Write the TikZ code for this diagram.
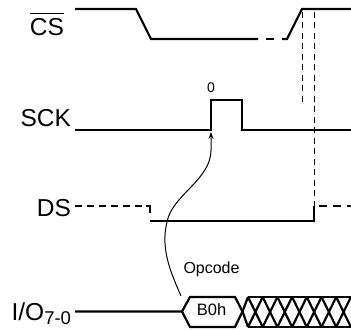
\documentclass[tikz,border=0pt]{standalone}
\usepackage{fontspec}
\setmainfont{Liberation Sans}
\usetikzlibrary{arrows.meta,positioning}

\begin{document}
\begin{tikzpicture}[x=1pt,y=-1pt,
        every node/.style={inner sep=0pt,outer sep=0pt},
        siglabel/.style={anchor=base east,font=\fontsize{24.5}{24.5}\selectfont},
        wave/.style={line width=2.2pt,line join=miter},
        guide/.style={line width=1pt,dash pattern=on 6pt off 4.5pt}]
        \useasboundingbox (0,0) rectangle (351,331);
        % signal names
        \node[siglabel] (cs) at (64,36) {$\overline{\mbox{\rule{0pt}{21.5pt}CS}}$};
        \node[siglabel] (sck) at (71,127) {SCK};
        \node[siglabel] (ds) at (71,216.5) {DS};
        \node[siglabel] (io) at (71,320) {I/O\raisebox{-4pt}{\fontsize{18.5}{18.5}\selectfont 7-0}};
        % CS
        \draw[wave] (75,9) -- (136,9) -- (151,39) -- (258,39);
        \draw[wave] (266,39) -- (274,39);
        \draw[wave] (282,39) -- (287,39) -- (302,9) -- (351,9);
        % SCK
        \coordinate (edge) at (211,132);
        \draw[wave] (75,130) -- (211,130) -- (211,100) -- (242,100) -- (242,130) -- (351,130);
        \node[font=\fontsize{14}{14}\selectfont,anchor=base] (zero) at (211,92.5) {0};
        % DS
        \draw[wave,dash pattern=on 7pt off 5pt] (75,206) -- (146,206);
        \draw[wave] (146,206) -- (150,206) -- (150,213);
        \draw[wave] (150,221) -- (314,221) -- (314,206);
        \draw[wave,dash pattern=on 8pt off 6pt] (319,206) -- (351,206);
        % guides
        \draw[guide] (302,12) -- (302,104);
        \draw[guide] (314,12) -- (314,206);
        % IO
        \draw[wave] (75,311.5) -- (182,311.5) -- (190,297) -- (235,297) -- (242.5,311.5) -- (235,327) -- (190,327) -- (182,311.5);
        \draw[wave] (248,297) -- (351,297) (248,327) -- (351,327);
        \draw[wave] (242.5,311.5) -- (248,297) (242.5,311.5) -- (248,327);
        \foreach \x in {248,262.7,277.4,292.1,306.8,321.5,336.2,350.9} {
          \draw[wave] (\x,297) -- (\x+14.7,327) (\x,327) -- (\x+14.7,297);
        }
        \node[font=\fontsize{16.5}{16.5}\selectfont,anchor=base] (opc) at (211.5,315.5) {B0h};
        \node[font=\fontsize{16}{16}\selectfont,anchor=base west] (lbl) at (183.5,274) {Opcode};
        % opcode arrow
        \coordinate (foot) at (181,296);
        \draw[-{Stealth[length=7pt,width=5pt]},line width=1pt] (foot) .. controls (172,275) and (160,250) .. (167,222)
          .. controls (172,195) and (211,180) .. (211,150) -- (edge);
      \end{tikzpicture}
\end{document}
